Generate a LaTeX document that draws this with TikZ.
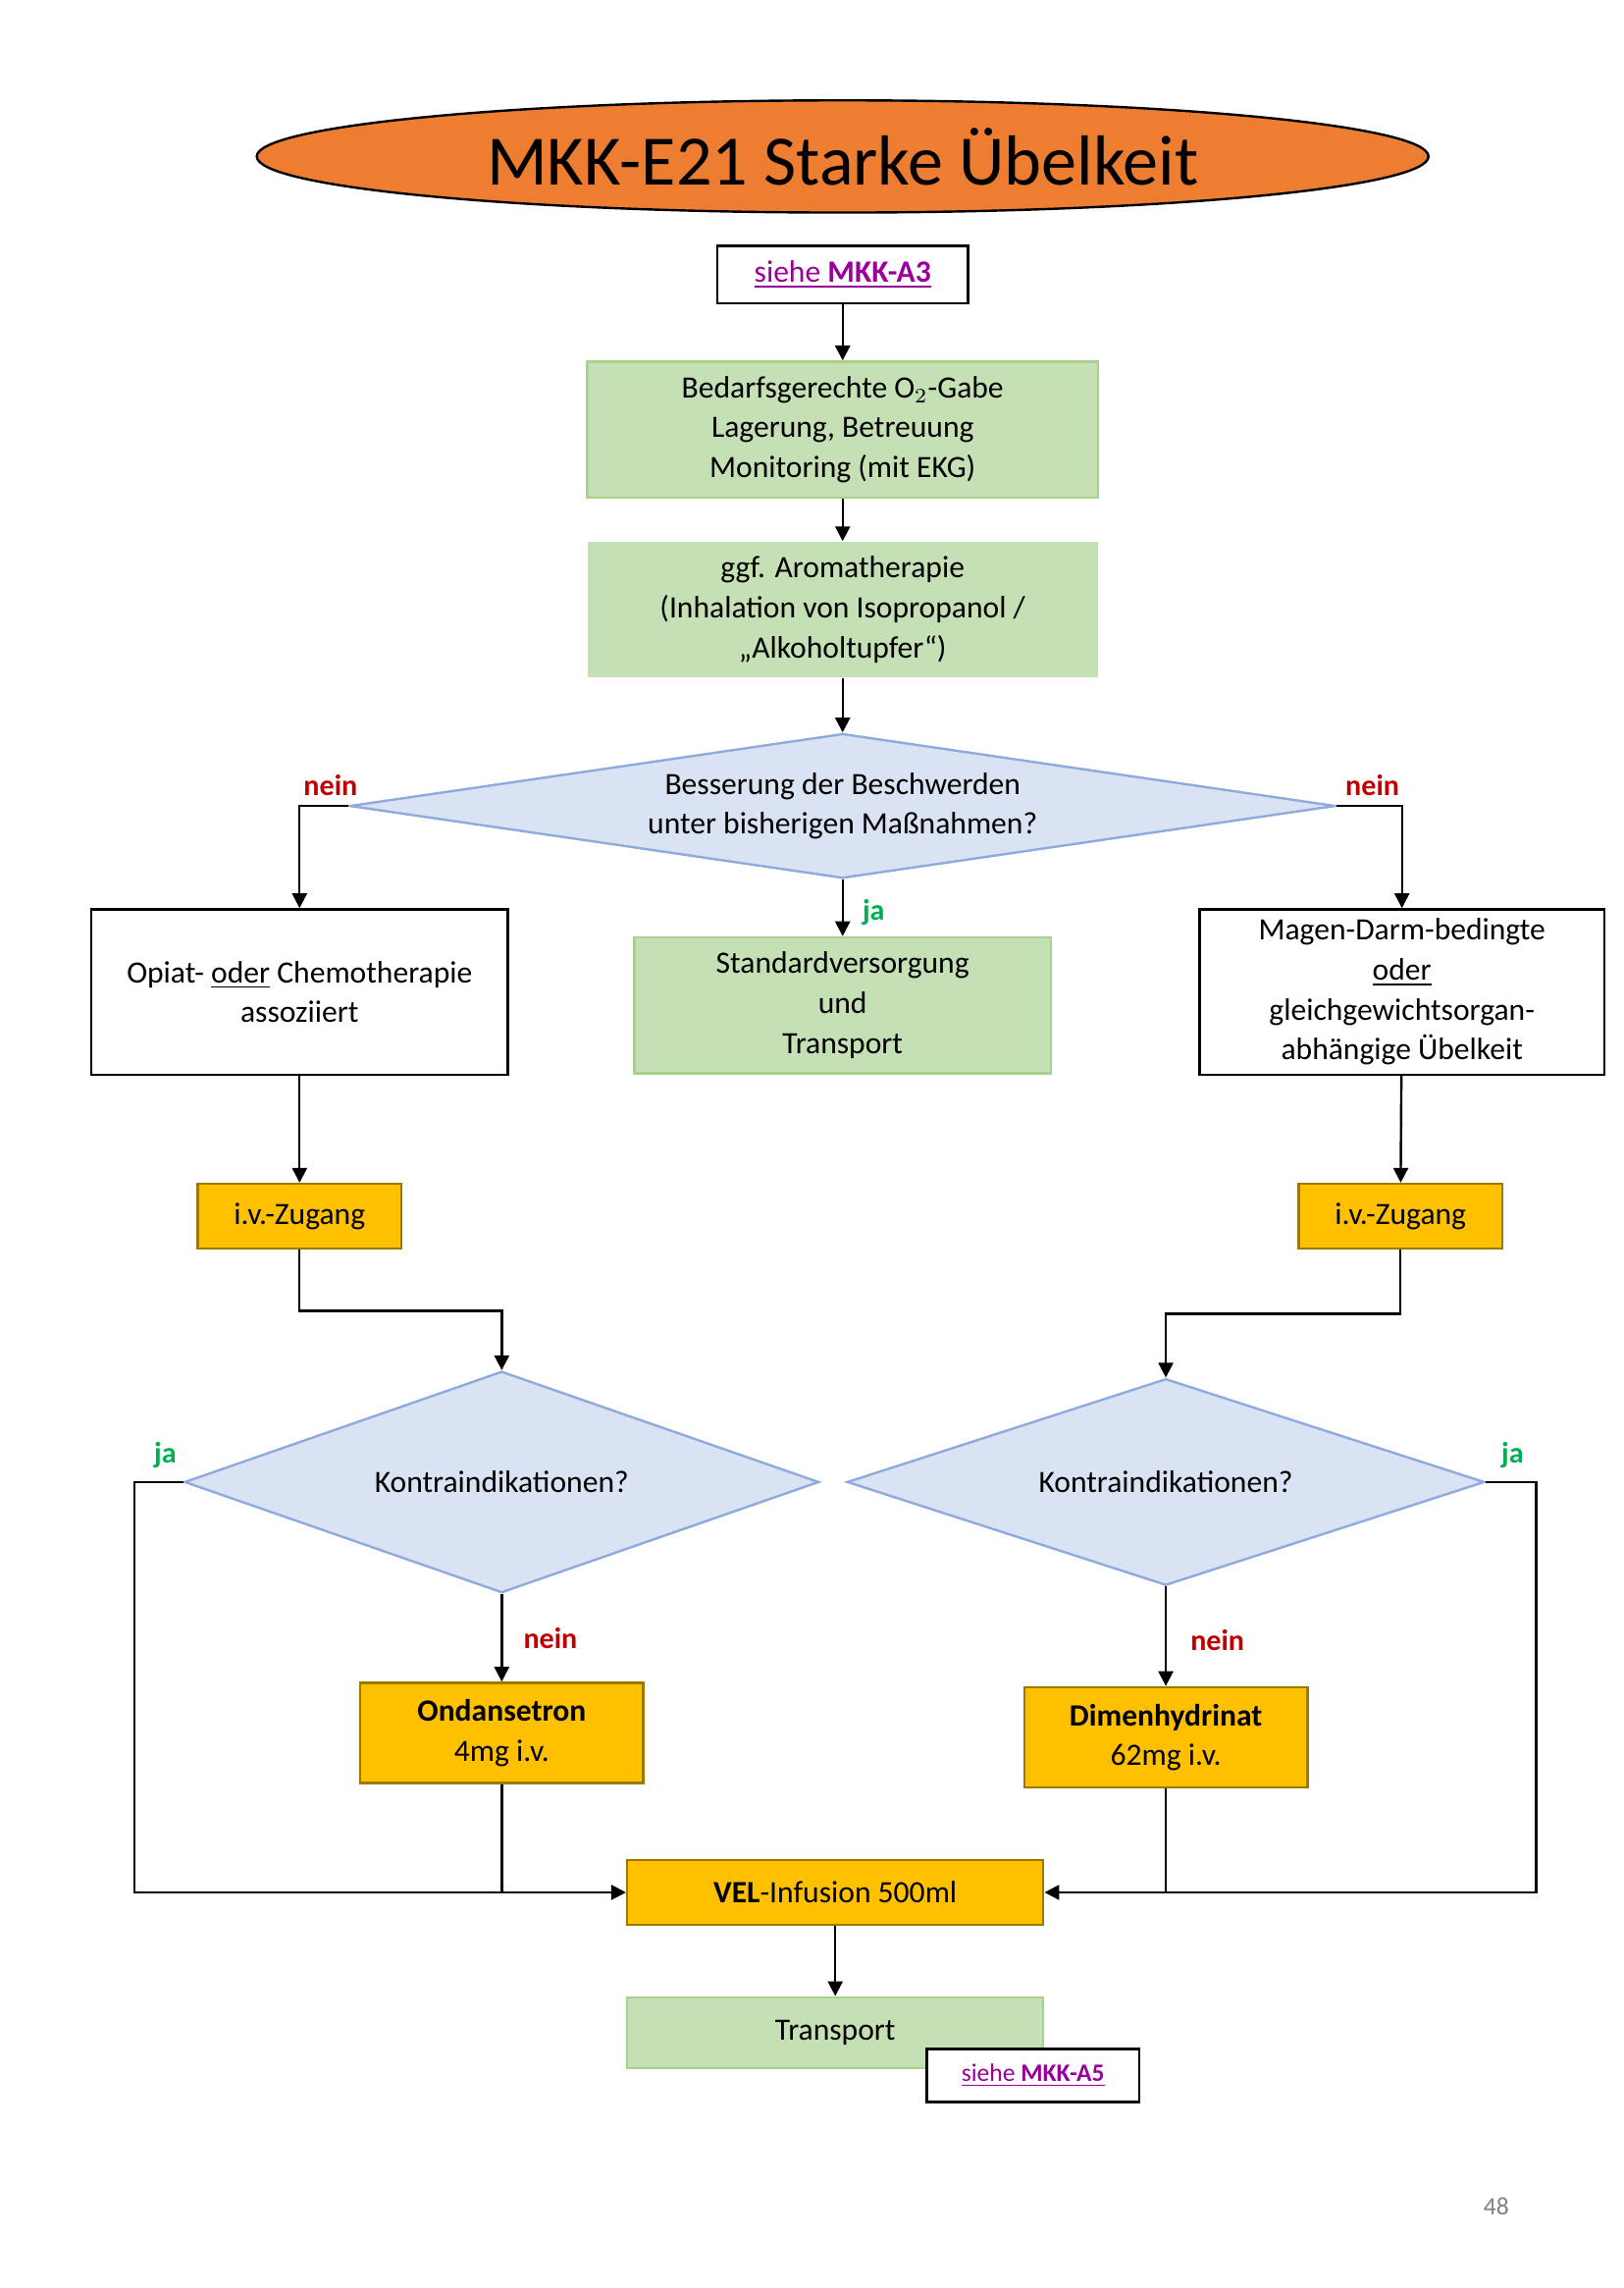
\documentclass[tikz,border=0pt]{standalone}
\usepackage{fontspec}
\setmainfont{Carlito}
\usetikzlibrary{shapes.geometric,arrows.meta}
\definecolor{orng}{HTML}{ED7D31}
\definecolor{grn}{HTML}{C5E0B4}
\definecolor{grnline}{HTML}{A9D18E}
\definecolor{blu}{HTML}{DAE3F3}
\definecolor{bluline}{HTML}{8FAADC}
\definecolor{gold}{HTML}{FFC000}
\definecolor{goldline}{HTML}{9C7A00}
\definecolor{lnk}{HTML}{990099}
\definecolor{nein}{HTML}{C00000}
\definecolor{ja}{HTML}{00B050}
\newcommand{\lnkto}[1]{{\color{lnk}\underline{siehe \textbf{#1}}}}
\tikzset{
  box/.style={draw,thick,align=center,minimum width=#1,inner sep=2pt},
  greenbox/.style={fill=grn,draw=grnline,thick,align=center,minimum width=#1},
  goldbox/.style={fill=gold,draw=goldline,thick,align=center,minimum width=#1},
  dia/.style={diamond,aspect=#1,fill=blu,draw=bluline,thick,align=center,inner sep=0pt},
  arr/.style={-{Triangle[length=5pt,width=5pt]},thick},
  no/.style={text=nein,font=\bfseries},
  yes/.style={text=ja,font=\bfseries}
}
\begin{document}
\begin{tikzpicture}[x=0.5pt,y=-0.5pt,font=\fontsize{10.5}{13.5}\selectfont]
\useasboundingbox (0,0) rectangle (1100,1550);
% title
\node[ellipse,fill=orng,draw,thick,minimum width=397pt,minimum height=38pt,font=\fontsize{24}{28}\selectfont] (title) at (571,106) {MKK-E21 Starke Übelkeit};
\node[box=85pt,minimum height=19.5pt] (a3) at (571,186) {\lnkto{MKK-A3}};
\node[greenbox=173pt,minimum height=46pt] (o2) at (571,291) {Bedarfsgerechte O$_2$-Gabe\\Lagerung, Betreuung\\Monitoring (mit EKG)};
\node[fill=grn,align=center,minimum width=173pt,minimum height=46pt] (aroma) at (571,413) {ggf. Aromatherapie\\(Inhalation von Isopropanol /\\„Alkoholtupfer“)};
\node[dia=6.8,minimum width=334pt,minimum height=49pt] (besser) at (571,546) {Besserung der Beschwerden\\unter bisherigen Maßnahmen?};
\node[box=141pt,minimum height=56pt] (opiat) at (203,672) {Opiat- \underline{oder} Chemotherapie\\assoziiert};
\node[greenbox=141pt,minimum height=46pt] (std) at (571,681) {Standardversorgung\\und\\Transport};
\node[box=137pt,minimum height=56pt] (magen) at (950,672) {Magen-Darm-bedingte\\\underline{oder}\\gleichgewichtsorgan-\\abhängige Übelkeit};
\node[goldbox=69pt,minimum height=22pt] (ivl) at (203,824) {i.v.-Zugang};
\node[goldbox=69pt,minimum height=22pt] (ivr) at (949,824) {i.v.-Zugang};
\node[dia=2.87,minimum width=215pt,minimum height=75pt] (kil) at (340,1004) {Kontraindikationen?};
\node[dia=3.09,minimum width=216pt,minimum height=70pt] (kir) at (790,1004) {Kontraindikationen?};
\node[goldbox=96pt,minimum height=34pt] (ond) at (340,1174) {\textbf{Ondansetron}\\4mg i.v.};
\node[goldbox=96pt,minimum height=34pt] (dim) at (790,1177) {\textbf{Dimenhydrinat}\\62mg i.v.};
\node[goldbox=141pt,minimum height=22pt] (vel) at (566,1282) {\textbf{VEL}-Infusion 500ml};
\node[greenbox=141pt,minimum height=24pt] (trans) at (566,1377) {Transport};
\node[box=72pt,minimum height=18pt,fill=white,font=\fontsize{8.5}{10}\selectfont] (a5) at (700,1406) {\lnkto{MKK-A5}};
\node[text=gray,font=\fontsize{8.5}{10}\selectfont] (page) at (1014,1495) {48};
% connectors
\draw[arr] (a3) -- (o2);
\draw[arr] (o2) -- (aroma);
\draw[arr] (aroma) -- (besser);
\draw[arr] (besser.west) -| (opiat.north);
\draw[arr] (besser.east) -| (magen.north);
\draw[arr] (besser.south) -- (std.north);
\draw[arr] (opiat) -- (ivl);
\draw[arr] (magen) -- (ivr);
\draw[arr] (ivl.south) |- (340,888) -- (kil.north);
\draw[arr] (ivr.south) |- (790,890) -- (kir.north);
\draw[arr] (kil) -- (ond);
\draw[arr] (kir) -- (dim);
\draw[arr] (kil.west) -- (91,1004) |- (vel.west);
\draw[arr] (kir.east) -- (1041,1004) |- (vel.east);
\draw[thick] (ond.south) -- (340,1282);
\draw[thick] (dim.south) -- (790,1282);
\draw[arr] (vel) -- (trans);
% labels
\node[no] at (224,532) {nein};
\node[no] at (930,532) {nein};
\node[yes] at (592,618) {ja};
\node[yes] at (112,986) {ja};
\node[yes] at (1025,986) {ja};
\node[no] at (373,1110) {nein};
\node[no] at (825,1111) {nein};
\end{tikzpicture}
\end{document}
